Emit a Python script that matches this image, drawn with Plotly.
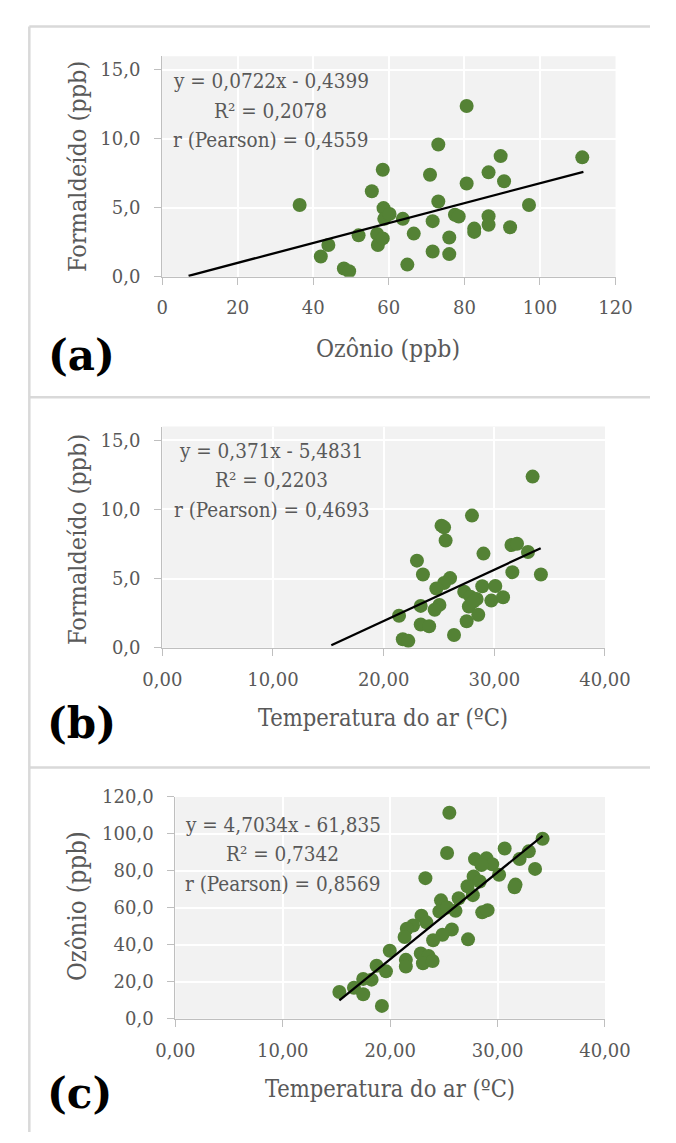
import plotly.graph_objects as go

# ---- data -----------------------------------------------------------------
# (a) ozone (ppb) vs formaldehyde (ppb)
ozone_a = [36.4, 42.0, 44.0, 48.1, 49.5, 52.0, 55.5, 58.4, 56.9, 57.1, 58.4, 58.6, 58.8,
           60.2, 63.7, 64.9, 66.6, 70.9, 71.6, 71.6, 73.1, 73.1, 76.0, 76.0, 77.5, 78.5,
           80.6, 80.6, 82.6, 82.6, 86.4, 86.4, 86.4, 89.6, 90.5, 92.1, 97.1, 111.2]
hcho_a = [5.20, 1.47, 2.30, 0.60, 0.40, 3.00, 6.20, 7.76, 3.10, 2.30, 2.78, 4.98, 4.20,
          4.55, 4.20, 0.88, 3.13, 7.40, 4.03, 1.83, 9.59, 5.46, 2.85, 1.64, 4.50, 4.37,
          12.38, 6.76, 3.49, 3.25, 7.57, 4.39, 3.77, 8.75, 6.93, 3.59, 5.20, 8.66]

# (b) air temperature (ºC) vs formaldehyde (ppb)
temp_b = [33.46, 27.98, 25.23, 25.46, 25.60, 31.55, 32.05, 33.04, 29.02, 23.01, 23.55,
          31.63, 34.21, 26.00, 25.46, 24.76, 27.28, 28.91, 30.09, 27.84, 28.40, 29.73,
          30.79, 27.70, 23.35, 25.04, 24.61, 21.39, 28.55, 27.50, 23.35, 24.11, 26.36,
          21.73, 22.23, 28.12]
hcho_b = [12.38, 9.56, 8.83, 8.71, 7.76, 7.43, 7.52, 6.93, 6.81, 6.30, 5.30,
          5.47, 5.30, 5.04, 4.68, 4.29, 4.05, 4.45, 4.47, 3.69, 3.53, 3.41,
          3.65, 2.98, 3.03, 3.10, 2.75, 2.32, 2.39, 1.92, 1.68, 1.56, 0.92,
          0.62, 0.50, 3.34]

# (c) air temperature (ºC) vs ozone (ppb)
temp_c = [25.51, 25.30, 34.19, 30.66, 32.91, 32.05, 33.49, 31.67, 31.58, 23.28, 27.90,
          28.97, 29.50, 28.50, 30.14, 27.77, 27.20, 27.70, 28.34, 26.38, 24.73, 24.58,
          25.30, 26.08, 28.57, 29.07, 22.91, 23.37, 22.13, 21.55, 21.34, 25.74, 24.87,
          24.00, 27.25, 19.96, 22.85, 23.57, 21.46, 21.46, 23.05, 23.95, 18.74, 19.61,
          18.27, 17.49, 16.63, 17.49, 15.27, 19.23]
ozone_c = [111.5, 89.7, 97.4, 92.1, 90.6, 86.4, 81.1, 72.6, 71.2, 76.1, 86.4,
           86.8, 83.6, 83.2, 77.9, 77.0, 71.7, 66.9, 74.3, 65.2, 64.1, 58.1,
           60.2, 58.4, 57.6, 58.8, 55.8, 52.2, 50.5, 48.7, 44.3, 48.3, 45.5,
           42.5, 43.0, 36.8, 35.4, 34.0, 31.9, 28.3, 30.1, 31.3, 28.7, 25.7,
           21.2, 21.6, 16.8, 13.3, 14.5, 7.0]

# linear fits (slope, intercept) and their statistics
fit_a = (0.0722, -0.4399)
fit_b = (0.371, -5.4831)
fit_c = (4.7034, -61.835)
eq_a = ["y = 0,0722x - 0,4399", "R² = 0,2078", "r (Pearson) = 0,4559"]
eq_b = ["y = 0,371x - 5,4831", "R² = 0,2203", "r (Pearson) = 0,4693"]
eq_c = ["y = 4,7034x - 61,835", "R² = 0,7342", "r (Pearson) = 0,8569"]

# axis ticks
ticks_hcho = [0, 5, 10, 15]
ticks_hcho_text = ["0,0", "5,0", "10,0", "15,0"]
ticks_ozone_x = [0, 20, 40, 60, 80, 100, 120]
ticks_ozone_x_text = ["0", "20", "40", "60", "80", "100", "120"]
ticks_temp = [0, 10, 20, 30, 40]
ticks_temp_text = ["0,00", "10,00", "20,00", "30,00", "40,00"]
ticks_ozone_y = [0, 20, 40, 60, 80, 100, 120]
ticks_ozone_y_text = ["0,0", "20,0", "40,0", "60,0", "80,0", "100,0", "120,0"]

# ---- styling --------------------------------------------------------------
W, H = 676, 1143
FONT = "DejaVu Serif"
FONT_NARROW = "DejaVu Serif Condensed, DejaVu Serif"
TXT = "#595959"
GREEN = "#548235"
AXIS_GRAY = "#bfbfbf"


def px(x):
    return x / W


def py(y):
    return 1 - y / H


fig = go.Figure()


def trend(fit, xs):
    lo, hi = min(xs), max(xs)
    return [lo, hi], [fit[0] * lo + fit[1], fit[0] * hi + fit[1]]


panels = [
    # x data, y data, fit, fit x-extent source, axis suffix
    (ozone_a, hcho_a, fit_a, ozone_c, ""),
    (temp_b, hcho_b, fit_b, temp_c, "2"),
    (temp_c, ozone_c, fit_c, temp_c, "3"),
]

for xs, ys, fit, ext, s in panels:
    fig.add_trace(go.Scatter(
        x=xs, y=ys, mode="markers", xaxis="x" + s, yaxis="y" + s,
        marker=dict(size=14, color=GREEN, line=dict(width=0)),
        showlegend=False, hoverinfo="skip"))
    tx, ty = trend(fit, ext)
    fig.add_trace(go.Scatter(
        x=tx, y=ty, mode="lines", xaxis="x" + s, yaxis="y" + s,
        line=dict(color="black", width=2.3), showlegend=False, hoverinfo="skip"))

tickfont = dict(family=FONT, size=18, color=TXT)
common_axis = dict(
    showline=True, linecolor=AXIS_GRAY, linewidth=1.3,
    ticks="outside", ticklen=7, tickcolor=AXIS_GRAY, tickwidth=1.3,
    showgrid=True, gridcolor="white", gridwidth=1.6,
    zeroline=False, tickfont=tickfont, fixedrange=True,
)

# panel geometry in pixels: left, right, top, bottom
geo = {
    "": (152.5, 639.0, 46.0, 270.7),
    "2": (152.7, 627.7, 423.3, 648.7),
    "3": (166.7, 627.7, 800.7, 1026.7),
}
xaxes = {
    "": ([0, 120], ticks_ozone_x, ticks_ozone_x_text),
    "2": ([0, 40], ticks_temp, ticks_temp_text),
    "3": ([0, 40], ticks_temp, ticks_temp_text),
}
yaxes = {
    "": ([0, 16], ticks_hcho, ticks_hcho_text),
    "2": ([0, 16], ticks_hcho, ticks_hcho_text),
    "3": ([0, 120], ticks_ozone_y, ticks_ozone_y_text),
}

layout_axes = {}
for s, (l, r, t, b) in geo.items():
    xr, xv, xt = xaxes[s]
    yr, yv, yt = yaxes[s]
    layout_axes["xaxis" + s] = dict(
        common_axis, domain=[px(l), px(r)], range=xr, tickvals=xv, ticktext=xt,
        anchor="y" + s, ticklabelstandoff=8)
    layout_axes["yaxis" + s] = dict(
        common_axis, domain=[py(b), py(t)], range=yr, tickvals=yv, ticktext=yt,
        anchor="x" + s, ticklabelstandoff=10)

fig.update_layout(**layout_axes)

annotations = []


def text(x, y, s, size, bold=False, angle=0, family=FONT_NARROW):
    annotations.append(dict(
        x=px(x), y=py(y), xref="paper", yref="paper", text=s, showarrow=False,
        xanchor="center", yanchor="middle", textangle=angle,
        font=dict(family=family, size=size, color="black" if bold else TXT,
                  weight="bold" if bold else "normal")))


# regression equations
for (cx, y0), lines in [((269, 71.7), eq_a), ((269.5, 448), eq_b), ((282, 829), eq_c)]:
    for i, line in enumerate(lines):
        text(cx, y0 + 30 * i, line, 20.5)

# axis titles
text(395, 344, "Ozônio (ppb)", 24.5)
text(390, 720, "Temperatura do ar (ºC)", 23.5)
text(397, 1098, "Temperatura do ar (ºC)", 23.5)
text(61, 158, "Formaldeído (ppb)", 25, angle=-90)
text(61, 538, "Formaldeído (ppb)", 25, angle=-90)
text(61, 912, "Ozônio (ppb)", 25.5, angle=-90)

# panel letters
text(66, 351, "(a)", 42, bold=True, family=FONT)
text(66, 726, "(b)", 42, bold=True, family=FONT)
text(64, 1103, "(c)", 42, bold=True, family=FONT)

# panel frames
frame = dict(color="#d9d9d9", width=2.5)
shapes = [
    dict(type="line", xref="paper", yref="paper", x0=px(10), x1=1, y0=py(15.7), y1=py(15.7), line=frame),
    dict(type="line", xref="paper", yref="paper", x0=px(10), x1=1, y0=py(393.5), y1=py(393.5), line=frame),
    dict(type="line", xref="paper", yref="paper", x0=px(10), x1=1, y0=py(770.7), y1=py(770.7), line=frame),
    dict(type="line", xref="paper", yref="paper", x0=px(10), x1=px(10), y0=py(15.7), y1=py(1142), line=frame),
]
# plot-area backgrounds
for s, (l, r, t, b) in geo.items():
    shapes.append(dict(type="rect", xref="paper", yref="paper", layer="below",
                       x0=px(l), x1=px(r), y0=py(b), y1=py(t),
                       fillcolor="#f2f2f2", line=dict(width=0)))

fig.update_layout(
    width=W, height=H, margin=dict(l=0, r=0, t=0, b=0),
    paper_bgcolor="white", plot_bgcolor="rgba(0,0,0,0)",
    annotations=annotations, shapes=shapes,
    font=dict(family=FONT, color=TXT),
)

fig.write_html("out.html", config={"displayModeBar": False})
